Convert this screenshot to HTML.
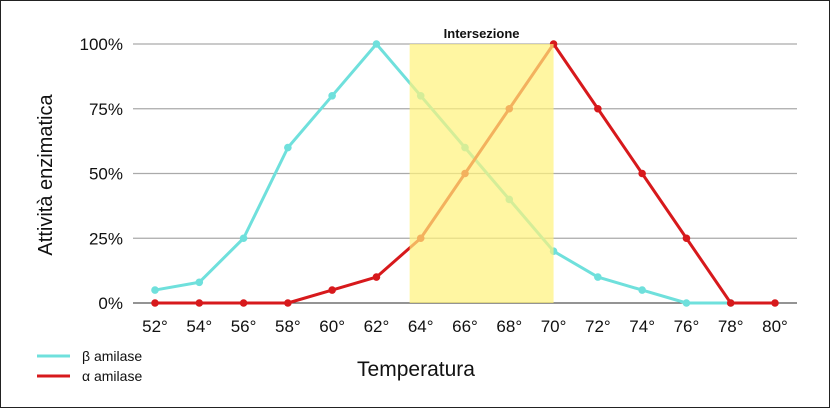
<!DOCTYPE html>
<html><head><meta charset="utf-8"><style>
html,body{margin:0;padding:0;background:#fff}
svg{display:block;font-family:"Liberation Sans",sans-serif}
</style></head><body>
<svg id="chart" width="830" height="408" viewBox="0 0 830 408">
<rect x="0.5" y="0.5" width="829" height="407" fill="#fff" stroke="#222" stroke-width="1"/>
<g id="grid"></g><g id="series"></g><g id="overlay"></g><g id="labels"></g>
<text transform="translate(52,175) rotate(-90)" text-anchor="middle" font-size="20" fill="#111">Attività enzimatica</text>
<text x="416" y="376" text-anchor="middle" font-size="21" fill="#111">Temperatura</text>
<line x1="37" y1="356" x2="70" y2="356" stroke="#6fe0dc" stroke-width="3"/>
<text x="82" y="361" font-size="14" fill="#111">β amilase</text>
<line x1="37" y1="376" x2="70" y2="376" stroke="#d7191c" stroke-width="3"/>
<text x="82" y="381" font-size="14" fill="#111">α amilase</text>
</svg>
<script>
const temps=[52,54,56,58,60,62,64,66,68,70,72,74,76,78,80];
const beta=[5,8,25,60,80,100,80,60,40,20,10,5,0,0,null];
const alpha=[0,0,0,0,5,10,25,50,75,100,75,50,25,0,0];
const yTicks=[0,25,50,75,100];
const band=[63.5,70];
const NS="http://www.w3.org/2000/svg";
const x=t=>155+(t-52)*(620/28);
const y=v=>303-v*2.59;
function mk(tag,attrs,parent){const e=document.createElementNS(NS,tag);for(const k in attrs)e.setAttribute(k,attrs[k]);parent.appendChild(e);return e;}
const grid=document.getElementById('grid'),ser=document.getElementById('series'),ov=document.getElementById('overlay'),lab=document.getElementById('labels');
yTicks.forEach(v=>{
 const l=mk('line',{x1:133,x2:797,y1:y(v),y2:y(v),stroke:v===0?'#555':'#aaa','stroke-width':1.2},grid);
 
 
 const t=mk('text',{x:123,y:y(v)+6,'text-anchor':'end','font-size':17,fill:'#111'},lab);
 t.textContent=v+'%';
 
 
});
temps.forEach(tp=>{
 const t=mk('text',{x:x(tp),y:332,'text-anchor':'middle','font-size':17,fill:'#111'},lab);
 t.textContent=tp+'°';
 
 
});
function draw(vals,color,name){
 const pts=[];vals.forEach((v,i)=>{if(v!==null)pts.push([x(temps[i]),y(v)]);});
 const p=mk('polyline',{points:pts.map(q=>q.join(',')).join(' '),fill:'none',stroke:color,'stroke-width':3,'stroke-linejoin':'round'},ser);
 
 
 pts.forEach((q,i)=>{const c=mk('circle',{cx:q[0],cy:q[1],r:3.8,fill:color},ser);
 
 });
}
draw(beta,'#6fe0dc','beta-amilase');
draw(alpha,'#d7191c','alpha-amilase');
const r=mk('rect',{x:x(band[0]),y:y(100),width:x(band[1])-x(band[0]),height:y(0)-y(100),fill:'#fff27a','fill-opacity':0.7},ov);


const it=mk('text',{x:(x(band[0])+x(band[1]))/2,y:38,'text-anchor':'middle','font-size':13,'font-weight':'bold',fill:'#111'},ov);
it.textContent='Intersezione';


</script>
</body></html>
